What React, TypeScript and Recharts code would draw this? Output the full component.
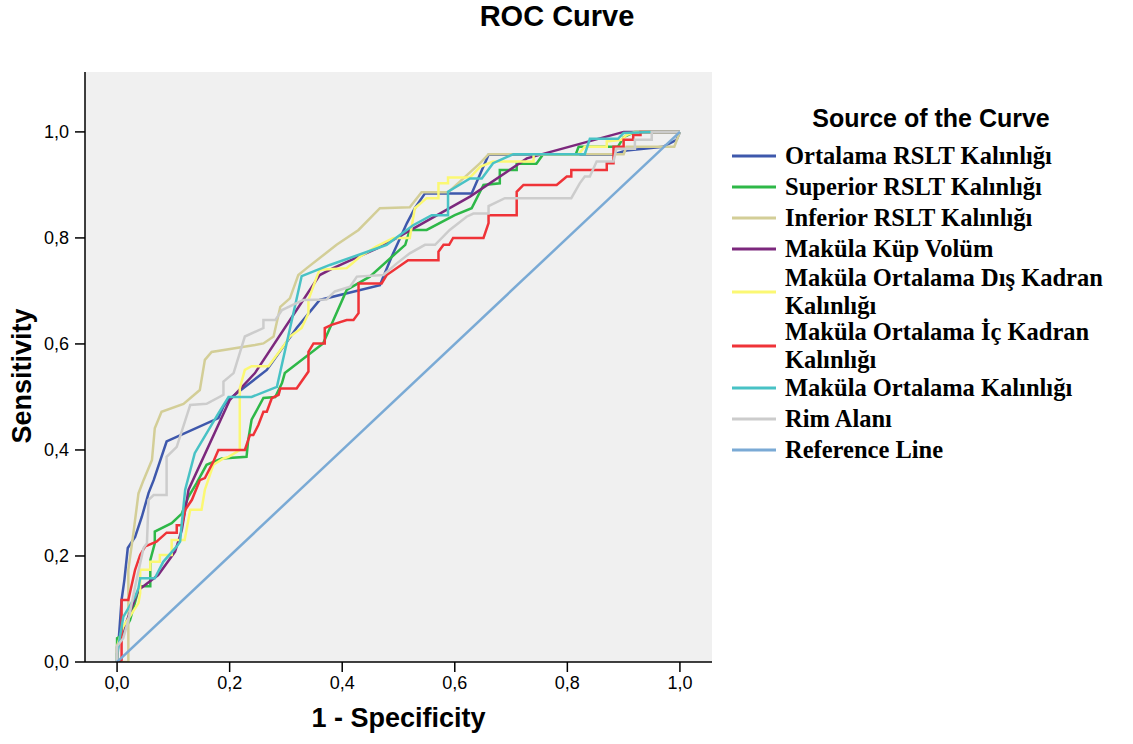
import React from 'react';
import { LineChart, Line, XAxis, YAxis, CartesianGrid, Legend } from 'recharts';

// ROC points: [1 - specificity, sensitivity]
const ortalamaRslt = [
  [0, 0], [0.008, 0.117], [0.013, 0.155], [0.019, 0.215], [0.032, 0.236], [0.044, 0.274],
  [0.056, 0.319], [0.065, 0.343], [0.088, 0.416], [0.18, 0.46], [0.189, 0.482], [0.197, 0.494],
  [0.266, 0.551], [0.319, 0.63], [0.36, 0.683], [0.467, 0.711], [0.488, 0.765], [0.515, 0.828],
  [0.529, 0.856], [0.547, 0.884], [0.63, 0.884], [0.66, 0.957], [0.88, 0.957], [0.905, 0.965],
  [0.97, 0.972], [0.994, 0.985], [1, 1],
];
const superiorRslt = [
  [0, 0], [0, 0.045], [0.008, 0.05], [0.023, 0.079], [0.038, 0.136], [0.041, 0.143], [0.059, 0.143],
  [0.059, 0.192], [0.067, 0.224], [0.067, 0.246], [0.097, 0.262], [0.115, 0.28], [0.127, 0.312],
  [0.141, 0.337], [0.159, 0.372], [0.186, 0.384], [0.23, 0.387], [0.233, 0.419], [0.239, 0.457],
  [0.26, 0.498], [0.281, 0.5], [0.293, 0.526], [0.298, 0.545], [0.366, 0.601], [0.408, 0.702],
  [0.449, 0.727], [0.512, 0.787], [0.52, 0.815], [0.55, 0.815], [0.6, 0.843], [0.63, 0.856],
  [0.651, 0.9], [0.68, 0.903], [0.68, 0.928], [0.71, 0.928], [0.71, 0.94], [0.745, 0.94],
  [0.757, 0.958], [0.815, 0.958], [0.82, 0.972], [0.89, 0.972], [0.9, 0.99], [0.92, 1], [1, 1],
];
const inferiorRslt = [
  [0, 0], [0.02, 0], [0.02, 0.174], [0.029, 0.243], [0.038, 0.318], [0.047, 0.343], [0.062, 0.381],
  [0.067, 0.441], [0.079, 0.472], [0.118, 0.487], [0.147, 0.513], [0.156, 0.57], [0.168, 0.585],
  [0.245, 0.598], [0.26, 0.601], [0.278, 0.614], [0.29, 0.67], [0.307, 0.686], [0.322, 0.73],
  [0.337, 0.743], [0.39, 0.787], [0.429, 0.815], [0.467, 0.856], [0.52, 0.858], [0.541, 0.886],
  [0.588, 0.886], [0.645, 0.941], [0.66, 0.958], [0.9, 0.958], [0.905, 0.972], [0.99, 0.972], [1, 1],
];
const kupVolum = [
  [0, 0], [0, 0.029], [0.038, 0.136], [0.073, 0.164], [0.103, 0.208], [0.115, 0.249], [0.127, 0.325],
  [0.2, 0.494], [0.245, 0.545], [0.36, 0.73], [0.384, 0.743], [0.461, 0.78], [0.497, 0.8],
  [0.627, 0.878], [0.728, 0.95], [0.9, 1], [1, 1],
];
const disKadran = [
  [0, 0], [0, 0.03], [0.011, 0.067], [0.038, 0.111], [0.041, 0.13], [0.041, 0.174], [0.059, 0.174],
  [0.059, 0.189], [0.076, 0.189], [0.076, 0.202], [0.097, 0.202], [0.097, 0.23], [0.12, 0.23],
  [0.13, 0.287], [0.15, 0.287], [0.156, 0.325], [0.171, 0.372], [0.189, 0.384], [0.198, 0.387],
  [0.218, 0.4], [0.218, 0.516], [0.227, 0.551], [0.239, 0.558], [0.269, 0.558], [0.295, 0.595],
  [0.307, 0.614], [0.328, 0.63], [0.34, 0.658], [0.34, 0.683], [0.355, 0.727], [0.36, 0.74],
  [0.408, 0.743], [0.432, 0.765], [0.461, 0.784], [0.491, 0.8], [0.52, 0.8], [0.529, 0.856],
  [0.55, 0.875], [0.571, 0.875], [0.571, 0.903], [0.588, 0.903], [0.588, 0.914], [0.627, 0.914],
  [0.645, 0.934], [0.668, 0.944], [0.74, 0.944], [0.74, 0.958], [0.82, 0.958], [0.831, 0.972],
  [0.87, 0.972], [0.87, 0.982], [0.896, 0.985], [0.905, 0.994], [0.92, 1], [1, 1],
];
const icKadran = [
  [0, 0], [0.008, 0.004], [0.008, 0.117], [0.02, 0.117], [0.032, 0.174], [0.041, 0.202], [0.05, 0.218],
  [0.07, 0.227], [0.088, 0.244], [0.106, 0.244], [0.106, 0.258], [0.115, 0.258], [0.121, 0.287],
  [0.133, 0.306], [0.147, 0.343], [0.156, 0.347], [0.171, 0.378], [0.18, 0.4], [0.227, 0.4],
  [0.236, 0.428], [0.242, 0.428], [0.251, 0.447], [0.26, 0.472], [0.266, 0.472], [0.275, 0.498],
  [0.287, 0.504], [0.29, 0.516], [0.319, 0.516], [0.34, 0.548], [0.34, 0.585], [0.349, 0.601],
  [0.369, 0.601], [0.369, 0.63], [0.381, 0.636], [0.408, 0.645], [0.42, 0.645], [0.429, 0.658],
  [0.429, 0.714], [0.47, 0.714], [0.479, 0.73], [0.517, 0.758], [0.571, 0.758], [0.571, 0.774],
  [0.58, 0.787], [0.59, 0.787], [0.597, 0.8], [0.651, 0.8], [0.66, 0.828], [0.66, 0.843],
  [0.71, 0.843], [0.71, 0.887], [0.722, 0.9], [0.781, 0.9], [0.799, 0.916], [0.807, 0.916],
  [0.807, 0.928], [0.87, 0.928], [0.87, 0.941], [0.882, 0.941], [0.882, 0.972], [0.9, 0.972],
  [0.9, 0.985], [0.917, 0.985], [0.917, 0.994], [0.93, 0.994], [0.93, 1], [1, 1],
];
const ortalamaKalinlik = [
  [0, 0], [0, 0.016], [0.011, 0.085], [0.032, 0.123], [0.038, 0.139], [0.041, 0.158], [0.067, 0.158],
  [0.082, 0.189], [0.106, 0.218], [0.112, 0.227], [0.115, 0.262], [0.121, 0.325], [0.138, 0.394],
  [0.18, 0.469], [0.198, 0.5], [0.239, 0.5], [0.284, 0.519], [0.328, 0.728], [0.378, 0.749],
  [0.461, 0.78], [0.479, 0.787], [0.526, 0.824], [0.559, 0.843], [0.588, 0.843], [0.588, 0.887],
  [0.627, 0.912], [0.648, 0.912], [0.668, 0.941], [0.704, 0.958], [0.831, 0.958], [0.84, 0.987],
  [0.89, 0.987], [0.9, 0.998], [0.947, 1], [1, 1],
];
const rimAlani = [
  [0, 0], [0, 0.03], [0.011, 0.045], [0.02, 0.079], [0.032, 0.142], [0.047, 0.215], [0.053, 0.224],
  [0.056, 0.306], [0.065, 0.315], [0.088, 0.315], [0.088, 0.387], [0.106, 0.406], [0.13, 0.485],
  [0.159, 0.487], [0.189, 0.504], [0.189, 0.529], [0.207, 0.545], [0.227, 0.614], [0.26, 0.63],
  [0.26, 0.645], [0.281, 0.645], [0.293, 0.664], [0.331, 0.683], [0.372, 0.684], [0.387, 0.699],
  [0.414, 0.708], [0.426, 0.727], [0.473, 0.73], [0.497, 0.752], [0.52, 0.771], [0.547, 0.787],
  [0.565, 0.787], [0.591, 0.815], [0.621, 0.84], [0.633, 0.846], [0.66, 0.846], [0.66, 0.86],
  [0.689, 0.875], [0.807, 0.875], [0.822, 0.903], [0.831, 0.916], [0.84, 0.916], [0.852, 0.944],
  [0.882, 0.944], [0.887, 0.968], [0.92, 0.968], [0.92, 0.985], [0.95, 0.985], [0.95, 1], [1, 1],
];
const referenceLine = [[0, 0], [1, 1]];

const seriesNames = [
  'Ortalama RSLT Kalınlığı',
  'Superior RSLT Kalınlığı',
  'Inferior RSLT Kalınlığı',
  'Maküla Küp Volüm',
  'Maküla Ortalama Dış Kadran Kalınlığı',
  'Maküla Ortalama İç Kadran Kalınlığı',
  'Maküla Ortalama Kalınlığı',
  'Rim Alanı',
  'Reference Line',
];
const seriesData = [
  ortalamaRslt, superiorRslt, inferiorRslt, kupVolum, disKadran,
  icKadran, ortalamaKalinlik, rimAlani, referenceLine,
];
const colors = [
  '#3E58AC', '#2EB848', '#D3CE97', '#7C287D', '#FBF873',
  '#EF3338', '#48C2C5', '#CCCCCC', '#7AAAD5',
];
const ticks = [0, 0.2, 0.4, 0.6, 0.8, 1];

const sans = 'Liberation Sans, Arial, sans-serif';
const serif = 'Liberation Serif, Times New Roman, serif';

const toPoints = (arr: number[][]) => arr.map(([x, y]) => ({ x, y }));
const fmt = (v: number) => v.toFixed(1).replace('.', ',');

// greedy wrap, legend column is ~26 characters wide
const wrap = (s: string) => {
  const lines: string[] = [];
  let cur = '';
  s.split(' ').forEach((w) => {
    const next = cur ? cur + ' ' + w : w;
    if (next.length > 26 && cur) {
      lines.push(cur);
      cur = w;
    } else cur = next;
  });
  lines.push(cur);
  return lines;
};

const LINE_GAP = 28;

const LegendBox = () => {
  let y = 66;
  const rows = seriesNames.map((name, i) => {
    const lines = wrap(name);
    if (lines.length > 1) y -= 2;
    const row = { name, lines, y, color: colors[i] };
    y += lines.length > 1 ? 28 + (lines.length - 1) * LINE_GAP : 31;
    return row;
  });
  return (
    <svg width={413} height={400} style={{ display: 'block' }}>
      <text x={211} y={37} textAnchor="middle" fontFamily={sans} fontWeight="bold" fontSize={25} fill="#000">
        Source of the Curve
      </text>
      {rows.map((r) => (
        <g key={r.name}>
          <line
            x1={12}
            x2={56}
            y1={r.y + ((r.lines.length - 1) * LINE_GAP) / 2}
            y2={r.y + ((r.lines.length - 1) * LINE_GAP) / 2}
            stroke={r.color}
            strokeWidth={3}
          />
          {r.lines.map((ln, j) => (
            <text key={j} x={65} y={r.y + j * LINE_GAP + 8} fontFamily={serif} fontWeight="bold" fontSize={24.5} fill="#000">
              {ln}
            </text>
          ))}
        </g>
      ))}
    </svg>
  );
};

const XTitle = (props: any) => {
  const vb = props.viewBox || { x: 85, width: 627 };
  return (
    <text x={vb.x + vb.width / 2} y={727} textAnchor="middle" fontFamily={sans} fontWeight="bold" fontSize={27} fill="#000">
      1 - Specificity
    </text>
  );
};

// y title plus the chart title, both placed in page pixels
const YTitle = () => (
  <g>
    <text x={557} y={26} textAnchor="middle" fontFamily={sans} fontWeight="bold" fontSize={29} fill="#000">
      ROC Curve
    </text>
    <text x={0} y={0} transform="translate(31, 376) rotate(-90)" textAnchor="middle" fontFamily={sans} fontWeight="bold" fontSize={27} fill="#000">
      Sensitivity
    </text>
  </g>
);

const xDomain = [-0.057, 1.057];
const yDomain = [0, 1.113];
const frame = { stroke: '#000', strokeWidth: 1.5 };

const App: React.FC = () => {
  return (
    <div style={{ position: 'absolute', left: 0, top: 0, width: 1133, height: 744, background: '#fff' }}>
      <LineChart width={1133} height={744} margin={{ top: 72, right: 421, bottom: 0, left: 0 }}>
        <CartesianGrid fill="#F0F0F0" horizontal={false} vertical={false} />
        <XAxis
          dataKey="x"
          type="number"
          domain={xDomain}
          ticks={ticks}
          tickFormatter={fmt}
          height={82}
          tickSize={10}
          tickMargin={4}
          axisLine={frame}
          tickLine={frame}
          tick={{ fontSize: 18, fill: '#000', fontFamily: sans }}
          allowDataOverflow
          label={<XTitle />}
        />
        <XAxis
          xAxisId="top"
          orientation="top"
          type="number"
          domain={xDomain}
          height={0}
          tick={false}
          tickLine={false}
          axisLine={frame}
        />
        <YAxis
          type="number"
          domain={yDomain}
          ticks={ticks}
          tickFormatter={fmt}
          width={85}
          tickSize={10}
          tickMargin={6}
          axisLine={frame}
          tickLine={frame}
          tick={{ fontSize: 18, fill: '#000', fontFamily: sans }}
          allowDataOverflow
          label={<YTitle />}
        />
        <YAxis
          yAxisId="right"
          orientation="right"
          type="number"
          domain={yDomain}
          width={0}
          tick={false}
          tickLine={false}
          axisLine={frame}
        />
        <Legend
          layout="vertical"
          align="center"
          verticalAlign="middle"
          content={<LegendBox />}
          wrapperStyle={{ left: 720, top: 90, width: 413, height: 400 }}
        />
        {seriesData.map((d, i) => (
          <Line
            key={seriesNames[i]}
            name={seriesNames[i]}
            data={toPoints(d)}
            dataKey="y"
            type="linear"
            stroke={colors[i]}
            strokeWidth={2.5}
            dot={false}
            activeDot={false}
            isAnimationActive={false}
          />
        ))}
      </LineChart>
    </div>
  );
};

export default App;
